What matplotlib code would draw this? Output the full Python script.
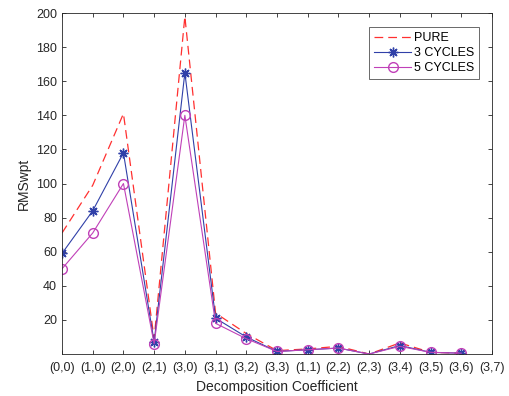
import numpy as np
from matplotlib import pyplot as plt

plt.rcParams['font.family'] = ['Liberation Sans', 'DejaVu Sans']

coefficients = ["(0,0)", "(1,0)", "(2,0)", "(2,1)", "(3,0)", "(3,1)", "(3,2)",
                "(3,3)", "(1,1)", "(2,2)", "(2,3)", "(3,4)", "(3,5)", "(3,6)", "(3,7)"]

pure = [71, 99, 141, 9, 198, 24, 12, 2, 3, 4.5, 0, 6.5, 1, 0.5]
cycles3 = [59, 84, 118, 7, 165, 21, 10, 1.5, 2.5, 3.5, 0, 5, 1, 0.5]
cycles5 = [50, 71, 100, 6, 140, 18, 9, 1.5, 2.5, 3.5, 0, 4.5, 1, 0.5]

x = np.arange(1, len(pure) + 1)
# no markers drawn at (2,3)
marked = [i for i in range(len(pure)) if i != 10]

fig = plt.figure(figsize=(5.1, 3.96), dpi=100)
ax = fig.add_axes([0.1216, 0.106, 0.843, 0.861])

ax.plot(x, pure, color="#ff3030", linestyle=(0, (7, 4)), linewidth=0.9, label="PURE")
ax.plot(x, cycles3, color="#3040a8", linewidth=0.8, marker=(8, 2, 0), markersize=7,
        markeredgewidth=1.0, markevery=marked, label="3 CYCLES")
ax.plot(x, cycles5, color="#c040b8", linewidth=0.8, marker="o", markersize=7,
        markerfacecolor="none", markevery=marked, label="5 CYCLES")

ax.set_xlim(1, 15)
ax.set_ylim(0, 200)
ax.set_xticks(np.arange(1, 16))
ax.set_xticklabels(coefficients)
ax.set_yticks(np.arange(20, 201, 20))

ax.tick_params(axis="both", direction="in", length=3, width=0.6, colors="#262626",
               labelsize=9, top=True, right=True)
ax.tick_params(axis="x", pad=6)
for spine in ax.spines.values():
    spine.set_color("#262626")
    spine.set_linewidth(0.6)

ax.set_xlabel("Decomposition Coefficient", fontsize=10, color="#262626", labelpad=4)
ax.set_ylabel("RMSwpt", fontsize=10, color="#262626")

leg = ax.legend(loc="upper right", bbox_to_anchor=(0.976, 0.966), fontsize=9,
                frameon=True, fancybox=False, handlelength=3.0, borderpad=0.4,
                labelspacing=0.25, handletextpad=0.2, borderaxespad=0.2)
leg.get_frame().set_edgecolor("#262626")
leg.get_frame().set_linewidth(0.6)

fig.savefig("out.png", dpi=100)
